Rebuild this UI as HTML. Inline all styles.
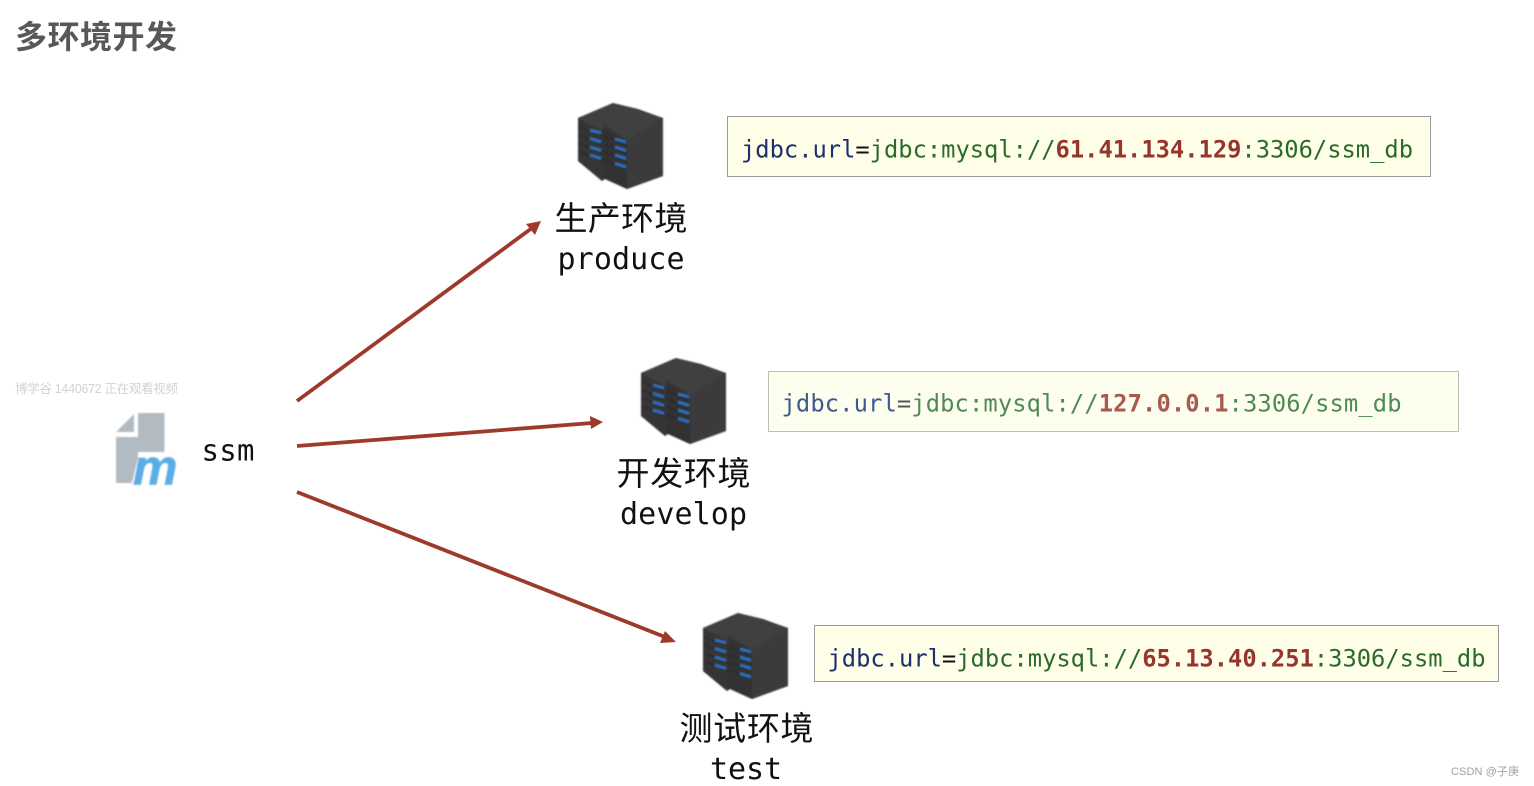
<!DOCTYPE html>
<html>
<head>
<meta charset="utf-8">
<style>
html,body{margin:0;padding:0;background:#fff;width:1534px;height:786px;overflow:hidden}
svg{display:block}
.m{font-family:"DejaVu Sans Mono",monospace}
.c{font-family:"Liberation Sans","Noto Sans CJK SC",sans-serif}
.u{font-size:23.75px}
.b{fill:#1c2f6e}.g{fill:#2a6b2a}.r{fill:#96352c;font-weight:bold}
</style>
</head>
<body>
<svg width="1534" height="786" viewBox="0 0 1534 786" xmlns="http://www.w3.org/2000/svg">
<defs>
<filter id="soft" x="-10%" y="-10%" width="120%" height="120%"><feGaussianBlur stdDeviation="0.7"/></filter>
<g id="srv" filter="url(#soft)">
  <path d="M0 15 L35 0 L60 6 L85 15 L85 73 L49 86 L27 76 L24 78 L0 58Z" fill="#383838"/>
  <path d="M0 15 L35 0 L60 7 L26 21 L25 28Z" fill="#3f3f3f"/>
  <path d="M26 21 L60 7 L85 15 L49 37 Z" fill="#404040"/>
  <path d="M0 15 L25 28 L25 76 L24 78 L0 58Z" fill="#343434"/>
  <path d="M25 24 L49 37 L49 86 L27 76 L25 76Z" fill="#323232"/>
  <path d="M49 37 L85 15 L85 73 L49 86Z" fill="#3a3a3a"/>
  <g stroke="#272727" stroke-width="1.1" fill="none">
    <path d="M1 24 L24 33M1 32 L24 42M1 40 L24 50M1 48 L24 58"/>
    <path d="M26 33 L48 42M26 41 L48 50M26 49 L48 58M26 57 L48 66"/>
  </g>
  <g stroke="#2b6fba" stroke-width="2.8" fill="none">
    <path d="M12 27 L23 30M12 35.500 L23 39M12 44 L23 47.500M12 52 L23 55.500"/>
    <path d="M37 36 L48 39M37 44 L48 47.500M37 52 L48 55.500M37 60.500 L48 64"/>
  </g>
</g>
</defs>

<text x="15" y="48" class="c" font-size="32" font-weight="bold" fill="#595757" textLength="162">多环境开发</text>

<text x="15" y="393" class="c" font-size="12.5" fill="#d2d2d2" textLength="163">博学谷 1440672 正在观看视频</text>

<!-- logo -->
<g filter="url(#soft)">
<path d="M116 432 L134 414 L134 432Z" fill="#b3bbc2"/>
<path d="M138 413 H164.500 V452 H138Z M116 437 H138 V483 H116Z" fill="#b3bbc2"/>
<path d="M131 487 L139 454 H181 V487Z" fill="#fff"/>
<text x="133" y="484.500" font-family="Liberation Sans,sans-serif" font-size="50" font-weight="bold" font-style="italic" fill="#5aaee8" stroke="#5aaee8" stroke-width="0.9" textLength="47">m</text>
</g>
<text x="201.500" y="460.500" class="m" font-size="29" fill="#111" textLength="53">ssm</text>

<!-- arrows -->
<g stroke="#9e3a2b" stroke-width="3.8" fill="none">
  <line x1="297" y1="401" x2="532" y2="228"/>
  <line x1="297" y1="446" x2="592" y2="423"/>
  <line x1="297" y1="492" x2="665" y2="637"/>
</g>
<g fill="#9e3a2b">
  <path d="M541 221 L526 224 L535 235Z"/>
  <path d="M603 422 L590 416 L591 429Z"/>
  <path d="M676 642 L665 631 L660 643Z"/>
</g>

<!-- servers -->
<use href="#srv" x="578" y="103"/>
<use href="#srv" x="641" y="358"/>
<use href="#srv" x="703" y="613"/>

<!-- labels -->
<text x="554.500" y="230" class="c" font-size="33" fill="#111" textLength="133">生产环境</text>
<text x="557.500" y="269" class="m" font-size="30" fill="#111" textLength="127">produce</text>
<text x="616.500" y="485" class="c" font-size="33" fill="#111" textLength="134">开发环境</text>
<text x="620" y="524" class="m" font-size="30" fill="#111" textLength="127">develop</text>
<text x="679.500" y="740" class="c" font-size="33" fill="#111" textLength="134">测试环境</text>
<text x="710" y="779" class="m" font-size="30" fill="#111" textLength="72">test</text>

<!-- boxes -->
<rect x="727.500" y="116.500" width="703" height="60" fill="#fefee9" stroke="#9a9a9a"/>
<text x="741" y="157.500" class="m u" textLength="672"><tspan class="b">jdbc.url</tspan><tspan fill="#111">=</tspan><tspan class="g">jdbc:mysql://</tspan><tspan class="r">61.41.134.129</tspan><tspan class="g">:3306/ssm_db</tspan></text>

<rect x="768.500" y="371.500" width="690" height="60" fill="#fdfeee" stroke="#b8c0b8"/>
<text x="781.500" y="411.500" class="m u" textLength="620"><tspan fill="#3f5a8e">jdbc.url</tspan><tspan fill="#555">=</tspan><tspan fill="#4f8a55">jdbc:mysql://</tspan><tspan fill="#a85a4e" font-weight="bold">127.0.0.1</tspan><tspan fill="#4f8a55">:3306/ssm_db</tspan></text>

<rect x="814.500" y="625.500" width="684" height="56" fill="#fefee9" stroke="#9a9a9a"/>
<text x="827.500" y="666.500" class="m u" textLength="658"><tspan class="b">jdbc.url</tspan><tspan fill="#111">=</tspan><tspan class="g">jdbc:mysql://</tspan><tspan class="r">65.13.40.251</tspan><tspan class="g">:3306/ssm_db</tspan></text>

<text x="1451" y="775" class="c" font-size="11" fill="#a0a0a0" textLength="68">CSDN @子庚</text>
</svg>
</body>
</html>
